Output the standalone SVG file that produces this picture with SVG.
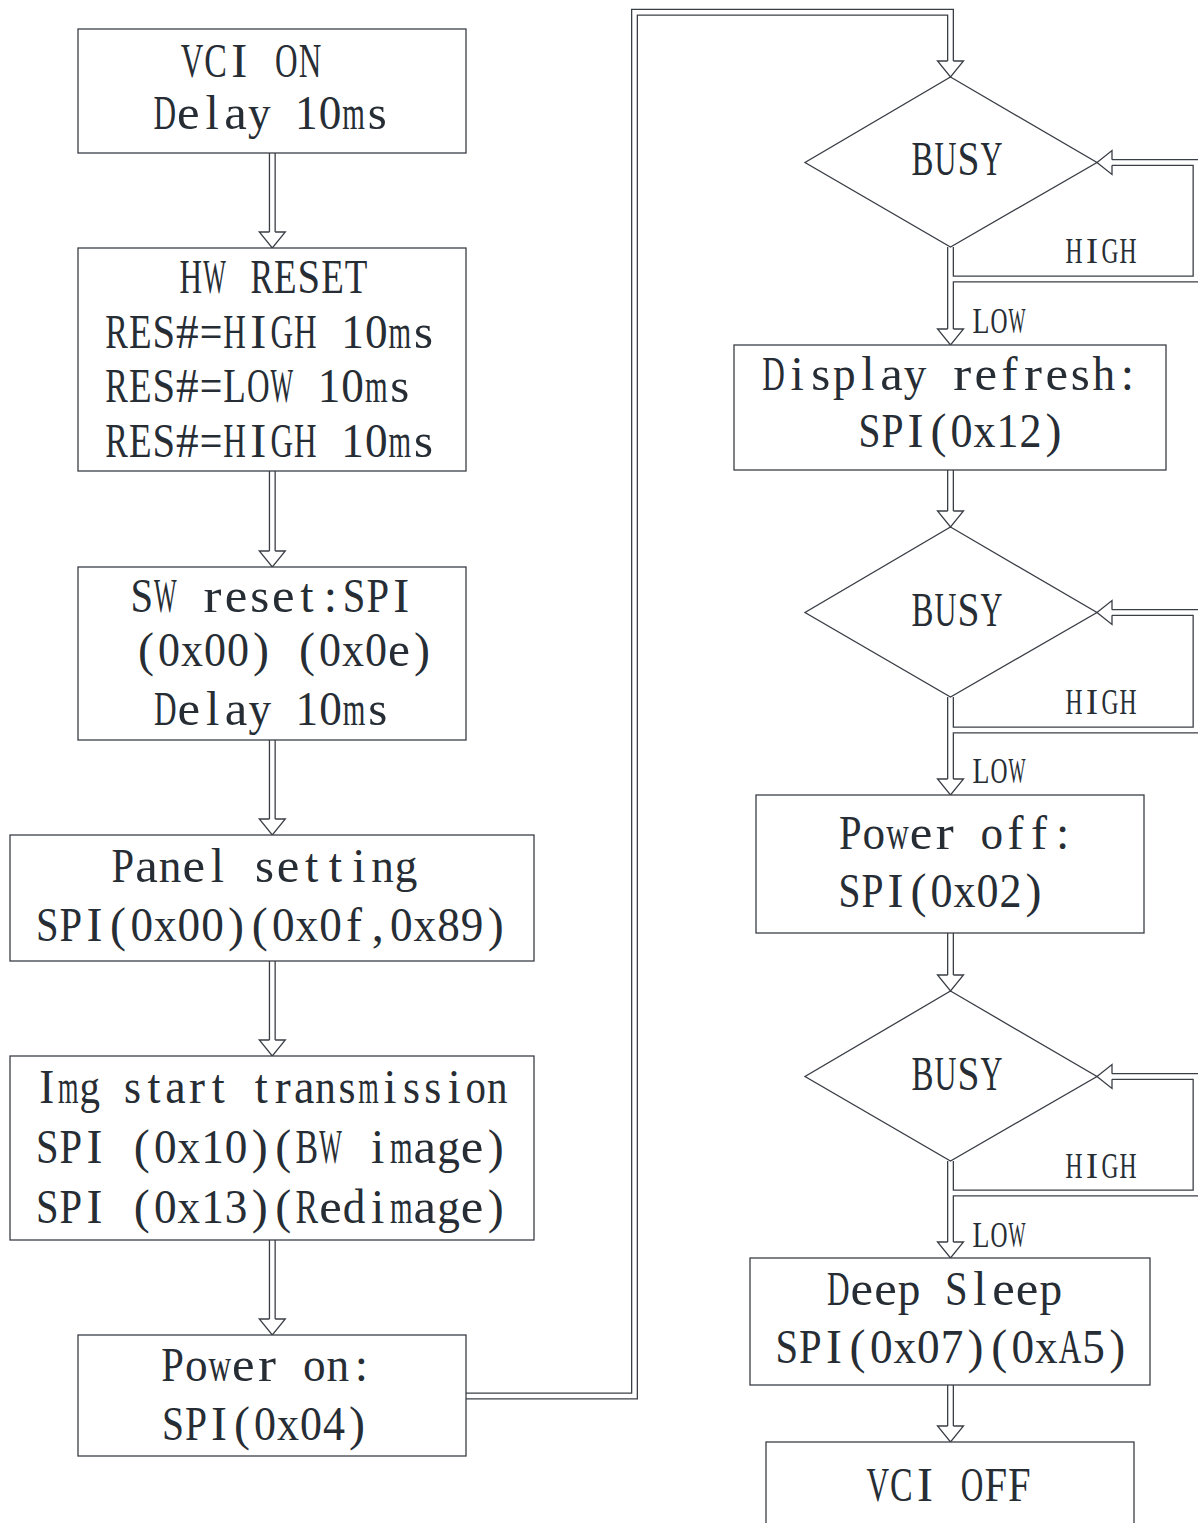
<svg xmlns="http://www.w3.org/2000/svg" width="1198" height="1523" viewBox="0 0 1198 1523">
  <style>
    .box { fill: #ffffff; stroke: #3a3f46; stroke-width: 1.3; }
    .dia { fill: none; stroke: #3a3f46; stroke-width: 1.3; }
    /* text is set at half height and stretched 2x vertically; each glyph is
       then fitted to its fixed-pitch cell with textLength */
    .t { font-family: "Liberation Serif", "DejaVu Serif", serif; font-size: 24px; fill: #272d34; }
    .s { font-size: 18px; }
    .pipe-o { fill: none; stroke: #3a3f46; stroke-width: 7; }
    .pipe-i { fill: none; stroke: #ffffff; stroke-width: 4.4; }
    .head-f { fill: #ffffff; stroke: none; }
    .head-s { fill: none; stroke: #3a3f46; stroke-width: 1.3; stroke-linejoin: miter; }
  </style>
  <rect width="1198" height="1523" fill="#ffffff"/>

  <!-- hollow double-line connectors: dark wide stroke under a white narrow one -->
  <g id="connectors">
    <g id="pipes-outer" class="pipe-o">
      <path d="M272.3,153 V232"/>
      <path d="M272.3,471 V551"/>
      <path d="M272.3,740 V819"/>
      <path d="M272.3,961 V1040"/>
      <path d="M272.3,1240 V1319"/>
      <path d="M466,1396 H634.5 V12.3 H950.5 V61"/>
      <path d="M950.5,247 V329"/>
      <path d="M950.5,279 H1196 V162.5 H1112"/>
      <path d="M950.5,470 V511"/>
      <path d="M950.5,697 V779"/>
      <path d="M950.5,730 H1196 V612.5 H1112"/>
      <path d="M950.5,933 V975"/>
      <path d="M950.5,1161 V1242"/>
      <path d="M950.5,1193 H1196 V1076.5 H1112"/>
      <path d="M950.5,1385 V1426"/>
    </g>
    <g id="pipes-inner" class="pipe-i">
      <path d="M272.3,153 V232"/>
      <path d="M272.3,471 V551"/>
      <path d="M272.3,740 V819"/>
      <path d="M272.3,961 V1040"/>
      <path d="M272.3,1240 V1319"/>
      <path d="M466,1396 H634.5 V12.3 H950.5 V61"/>
      <path d="M950.5,247 V329"/>
      <path d="M950.5,279 H1196 V162.5 H1112"/>
      <path d="M950.5,470 V511"/>
      <path d="M950.5,697 V779"/>
      <path d="M950.5,730 H1196 V612.5 H1112"/>
      <path d="M950.5,933 V975"/>
      <path d="M950.5,1161 V1242"/>
      <path d="M950.5,1193 H1196 V1076.5 H1112"/>
      <path d="M950.5,1385 V1426"/>
    </g>
    <defs>
      <!-- hollow heads, open where the pipe enters -->
      <g id="head-down">
        <path class="head-f" d="M-13,0 L0,16 L13,0 Z"/>
        <path class="head-s" d="M-2.85,0 H-13 L0,16 L13,0 H2.85"/>
      </g>
      <g id="head-left">
        <path class="head-f" d="M0,-12 L-15,0 L0,12 Z"/>
        <path class="head-s" d="M0,-2.85 V-12 L-15,0 L0,12 V2.85"/>
      </g>
    </defs>
    <use href="#head-down" x="272.3" y="232"/>
    <use href="#head-down" x="272.3" y="551"/>
    <use href="#head-down" x="272.3" y="819"/>
    <use href="#head-down" x="272.3" y="1040"/>
    <use href="#head-down" x="272.3" y="1319"/>
    <use href="#head-down" x="950.5" y="61"/>
    <use href="#head-down" x="950.5" y="329"/>
    <use href="#head-down" x="950.5" y="511"/>
    <use href="#head-down" x="950.5" y="779"/>
    <use href="#head-down" x="950.5" y="975"/>
    <use href="#head-down" x="950.5" y="1242"/>
    <use href="#head-down" x="950.5" y="1426"/>
    <use href="#head-left" x="1112" y="162.5"/>
    <use href="#head-left" x="1112" y="612.5"/>
    <use href="#head-left" x="1112" y="1076.5"/>

    <!-- branch labels, one fixed-pitch cell (18px) per glyph -->
    <g class="t s">
      <text y="131.5" transform="scale(1,2)"><tspan x="1065.5" textLength="17" lengthAdjust="spacingAndGlyphs">H</tspan><tspan x="1086" textLength="12" lengthAdjust="spacingAndGlyphs">I</tspan><tspan x="1101.5" textLength="17" lengthAdjust="spacingAndGlyphs">G</tspan><tspan x="1119.5" textLength="17" lengthAdjust="spacingAndGlyphs">H</tspan></text>
      <text y="357" transform="scale(1,2)"><tspan x="1065.5" textLength="17" lengthAdjust="spacingAndGlyphs">H</tspan><tspan x="1086" textLength="12" lengthAdjust="spacingAndGlyphs">I</tspan><tspan x="1101.5" textLength="17" lengthAdjust="spacingAndGlyphs">G</tspan><tspan x="1119.5" textLength="17" lengthAdjust="spacingAndGlyphs">H</tspan></text>
      <text y="589" transform="scale(1,2)"><tspan x="1065.5" textLength="17" lengthAdjust="spacingAndGlyphs">H</tspan><tspan x="1086" textLength="12" lengthAdjust="spacingAndGlyphs">I</tspan><tspan x="1101.5" textLength="17" lengthAdjust="spacingAndGlyphs">G</tspan><tspan x="1119.5" textLength="17" lengthAdjust="spacingAndGlyphs">H</tspan></text>
      <text y="166.5" transform="scale(1,2)"><tspan x="972.5" textLength="17" lengthAdjust="spacingAndGlyphs">L</tspan><tspan x="990.5" textLength="17" lengthAdjust="spacingAndGlyphs">O</tspan><tspan x="1008.5" textLength="17" lengthAdjust="spacingAndGlyphs">W</tspan></text>
      <text y="391.5" transform="scale(1,2)"><tspan x="972.5" textLength="17" lengthAdjust="spacingAndGlyphs">L</tspan><tspan x="990.5" textLength="17" lengthAdjust="spacingAndGlyphs">O</tspan><tspan x="1008.5" textLength="17" lengthAdjust="spacingAndGlyphs">W</tspan></text>
      <text y="623.5" transform="scale(1,2)"><tspan x="972.5" textLength="17" lengthAdjust="spacingAndGlyphs">L</tspan><tspan x="990.5" textLength="17" lengthAdjust="spacingAndGlyphs">O</tspan><tspan x="1008.5" textLength="17" lengthAdjust="spacingAndGlyphs">W</tspan></text>
    </g>
  </g>

  <!-- left column: every glyph sits in a fixed-pitch cell (about 23.6px wide) -->
  <g id="vci-on">
    <rect class="box" x="78" y="29" width="388" height="124"/>
    <text class="t" y="38.5" transform="scale(1,2)"><tspan x="180.7" textLength="22.6" lengthAdjust="spacingAndGlyphs">V</tspan><tspan x="204.3" textLength="22.6" lengthAdjust="spacingAndGlyphs">C</tspan><tspan x="231.2" textLength="16" lengthAdjust="spacingAndGlyphs">I</tspan> <tspan x="275.1" textLength="22.6" lengthAdjust="spacingAndGlyphs">O</tspan><tspan x="298.7" textLength="22.6" lengthAdjust="spacingAndGlyphs">N</tspan></text>
    <text class="t" y="64.5" transform="scale(1,2)"><tspan x="153.5" textLength="22.6" lengthAdjust="spacingAndGlyphs">D</tspan><tspan x="177.1" textLength="22.6" lengthAdjust="spacingAndGlyphs">e</tspan><tspan x="205.4" textLength="13.3" lengthAdjust="spacingAndGlyphs">l</tspan><tspan x="224.3" textLength="22.6" lengthAdjust="spacingAndGlyphs">a</tspan><tspan x="247.9" textLength="22.6" lengthAdjust="spacingAndGlyphs">y</tspan> <tspan x="295.1" textLength="22.6" lengthAdjust="spacingAndGlyphs">1</tspan><tspan x="318.7" textLength="22.6" lengthAdjust="spacingAndGlyphs">0</tspan><tspan x="342.3" textLength="22.6" lengthAdjust="spacingAndGlyphs">m</tspan><tspan x="367.7" textLength="19" lengthAdjust="spacingAndGlyphs">s</tspan></text>
  </g>
  <g id="hw-reset">
    <rect class="box" x="78" y="248" width="388" height="223"/>
    <text class="t" y="146.5" transform="scale(1,2)"><tspan x="179.6" textLength="22.6" lengthAdjust="spacingAndGlyphs">H</tspan><tspan x="203.2" textLength="22.6" lengthAdjust="spacingAndGlyphs">W</tspan> <tspan x="250.4" textLength="22.6" lengthAdjust="spacingAndGlyphs">R</tspan><tspan x="274" textLength="22.6" lengthAdjust="spacingAndGlyphs">E</tspan><tspan x="297.6" textLength="22.6" lengthAdjust="spacingAndGlyphs">S</tspan><tspan x="321.2" textLength="22.6" lengthAdjust="spacingAndGlyphs">E</tspan><tspan x="344.8" textLength="22.6" lengthAdjust="spacingAndGlyphs">T</tspan></text>
    <text class="t" y="174" transform="scale(1,2)"><tspan x="105.3" textLength="22.6" lengthAdjust="spacingAndGlyphs">R</tspan><tspan x="128.9" textLength="22.6" lengthAdjust="spacingAndGlyphs">E</tspan><tspan x="152.5" textLength="22.6" lengthAdjust="spacingAndGlyphs">S</tspan><tspan x="176.1" textLength="22.6" lengthAdjust="spacingAndGlyphs">#</tspan><tspan x="199.7" textLength="22.6" lengthAdjust="spacingAndGlyphs">=</tspan><tspan x="223.3" textLength="22.6" lengthAdjust="spacingAndGlyphs">H</tspan><tspan x="250.2" textLength="16" lengthAdjust="spacingAndGlyphs">I</tspan><tspan x="270.5" textLength="22.6" lengthAdjust="spacingAndGlyphs">G</tspan><tspan x="294.1" textLength="22.6" lengthAdjust="spacingAndGlyphs">H</tspan> <tspan x="341.3" textLength="22.6" lengthAdjust="spacingAndGlyphs">1</tspan><tspan x="364.9" textLength="22.6" lengthAdjust="spacingAndGlyphs">0</tspan><tspan x="388.5" textLength="22.6" lengthAdjust="spacingAndGlyphs">m</tspan><tspan x="413.9" textLength="19" lengthAdjust="spacingAndGlyphs">s</tspan></text>
    <text class="t" y="201" transform="scale(1,2)"><tspan x="105.3" textLength="22.6" lengthAdjust="spacingAndGlyphs">R</tspan><tspan x="128.9" textLength="22.6" lengthAdjust="spacingAndGlyphs">E</tspan><tspan x="152.5" textLength="22.6" lengthAdjust="spacingAndGlyphs">S</tspan><tspan x="176.1" textLength="22.6" lengthAdjust="spacingAndGlyphs">#</tspan><tspan x="199.7" textLength="22.6" lengthAdjust="spacingAndGlyphs">=</tspan><tspan x="223.3" textLength="22.6" lengthAdjust="spacingAndGlyphs">L</tspan><tspan x="246.9" textLength="22.6" lengthAdjust="spacingAndGlyphs">O</tspan><tspan x="270.5" textLength="22.6" lengthAdjust="spacingAndGlyphs">W</tspan> <tspan x="317.7" textLength="22.6" lengthAdjust="spacingAndGlyphs">1</tspan><tspan x="341.3" textLength="22.6" lengthAdjust="spacingAndGlyphs">0</tspan><tspan x="364.9" textLength="22.6" lengthAdjust="spacingAndGlyphs">m</tspan><tspan x="390.3" textLength="19" lengthAdjust="spacingAndGlyphs">s</tspan></text>
    <text class="t" y="228.5" transform="scale(1,2)"><tspan x="105.3" textLength="22.6" lengthAdjust="spacingAndGlyphs">R</tspan><tspan x="128.9" textLength="22.6" lengthAdjust="spacingAndGlyphs">E</tspan><tspan x="152.5" textLength="22.6" lengthAdjust="spacingAndGlyphs">S</tspan><tspan x="176.1" textLength="22.6" lengthAdjust="spacingAndGlyphs">#</tspan><tspan x="199.7" textLength="22.6" lengthAdjust="spacingAndGlyphs">=</tspan><tspan x="223.3" textLength="22.6" lengthAdjust="spacingAndGlyphs">H</tspan><tspan x="250.2" textLength="16" lengthAdjust="spacingAndGlyphs">I</tspan><tspan x="270.5" textLength="22.6" lengthAdjust="spacingAndGlyphs">G</tspan><tspan x="294.1" textLength="22.6" lengthAdjust="spacingAndGlyphs">H</tspan> <tspan x="341.3" textLength="22.6" lengthAdjust="spacingAndGlyphs">1</tspan><tspan x="364.9" textLength="22.6" lengthAdjust="spacingAndGlyphs">0</tspan><tspan x="388.5" textLength="22.6" lengthAdjust="spacingAndGlyphs">m</tspan><tspan x="413.9" textLength="19" lengthAdjust="spacingAndGlyphs">s</tspan></text>
  </g>
  <g id="sw-reset">
    <rect class="box" x="78" y="567" width="388" height="173"/>
    <text class="t" y="306" transform="scale(1,2)"><tspan x="130.4" textLength="22.6" lengthAdjust="spacingAndGlyphs">S</tspan><tspan x="154" textLength="22.6" lengthAdjust="spacingAndGlyphs">W</tspan> <tspan x="203.5" textLength="18" lengthAdjust="spacingAndGlyphs">r</tspan><tspan x="224.8" textLength="22.6" lengthAdjust="spacingAndGlyphs">e</tspan><tspan x="250.2" textLength="19" lengthAdjust="spacingAndGlyphs">s</tspan><tspan x="272" textLength="22.6" lengthAdjust="spacingAndGlyphs">e</tspan><tspan x="300.25" textLength="13.3" lengthAdjust="spacingAndGlyphs">t</tspan><tspan x="323.85" textLength="13.3" lengthAdjust="spacingAndGlyphs">:</tspan><tspan x="342.8" textLength="22.6" lengthAdjust="spacingAndGlyphs">S</tspan><tspan x="366.4" textLength="22.6" lengthAdjust="spacingAndGlyphs">P</tspan><tspan x="393.3" textLength="16" lengthAdjust="spacingAndGlyphs">I</tspan></text>
    <text class="t" y="333" transform="scale(1,2)"><tspan x="138" textLength="16" lengthAdjust="spacingAndGlyphs">(</tspan><tspan x="158" textLength="22" lengthAdjust="spacingAndGlyphs">0</tspan><tspan x="181" textLength="22" lengthAdjust="spacingAndGlyphs">x</tspan><tspan x="204" textLength="22" lengthAdjust="spacingAndGlyphs">0</tspan><tspan x="227" textLength="22" lengthAdjust="spacingAndGlyphs">0</tspan><tspan x="253" textLength="16" lengthAdjust="spacingAndGlyphs">)</tspan> <tspan x="299" textLength="16" lengthAdjust="spacingAndGlyphs">(</tspan><tspan x="319" textLength="22" lengthAdjust="spacingAndGlyphs">0</tspan><tspan x="342" textLength="22" lengthAdjust="spacingAndGlyphs">x</tspan><tspan x="365" textLength="22" lengthAdjust="spacingAndGlyphs">0</tspan><tspan x="388" textLength="22" lengthAdjust="spacingAndGlyphs">e</tspan><tspan x="414" textLength="16" lengthAdjust="spacingAndGlyphs">)</tspan></text>
    <text class="t" y="362.5" transform="scale(1,2)"><tspan x="154" textLength="22.6" lengthAdjust="spacingAndGlyphs">D</tspan><tspan x="177.6" textLength="22.6" lengthAdjust="spacingAndGlyphs">e</tspan><tspan x="205.9" textLength="13.3" lengthAdjust="spacingAndGlyphs">l</tspan><tspan x="224.8" textLength="22.6" lengthAdjust="spacingAndGlyphs">a</tspan><tspan x="248.4" textLength="22.6" lengthAdjust="spacingAndGlyphs">y</tspan> <tspan x="295.6" textLength="22.6" lengthAdjust="spacingAndGlyphs">1</tspan><tspan x="319.2" textLength="22.6" lengthAdjust="spacingAndGlyphs">0</tspan><tspan x="342.8" textLength="22.6" lengthAdjust="spacingAndGlyphs">m</tspan><tspan x="368.2" textLength="19" lengthAdjust="spacingAndGlyphs">s</tspan></text>
  </g>
  <g id="panel-setting">
    <rect class="box" x="10" y="835" width="524" height="126"/>
    <text class="t" y="441" transform="scale(1,2)"><tspan x="111.6" textLength="22.6" lengthAdjust="spacingAndGlyphs">P</tspan><tspan x="135.2" textLength="22.6" lengthAdjust="spacingAndGlyphs">a</tspan><tspan x="158.8" textLength="22.6" lengthAdjust="spacingAndGlyphs">n</tspan><tspan x="182.4" textLength="22.6" lengthAdjust="spacingAndGlyphs">e</tspan><tspan x="210.65" textLength="13.3" lengthAdjust="spacingAndGlyphs">l</tspan> <tspan x="255" textLength="19" lengthAdjust="spacingAndGlyphs">s</tspan><tspan x="276.8" textLength="22.6" lengthAdjust="spacingAndGlyphs">e</tspan><tspan x="305.05" textLength="13.3" lengthAdjust="spacingAndGlyphs">t</tspan><tspan x="328.65" textLength="13.3" lengthAdjust="spacingAndGlyphs">t</tspan><tspan x="352.25" textLength="13.3" lengthAdjust="spacingAndGlyphs">i</tspan><tspan x="371.2" textLength="22.6" lengthAdjust="spacingAndGlyphs">n</tspan><tspan x="394.8" textLength="22.6" lengthAdjust="spacingAndGlyphs">g</tspan></text>
    <text class="t" y="470.5" transform="scale(1,2)"><tspan x="36" textLength="22.6" lengthAdjust="spacingAndGlyphs">S</tspan><tspan x="59.6" textLength="22.6" lengthAdjust="spacingAndGlyphs">P</tspan><tspan x="86.5" textLength="16" lengthAdjust="spacingAndGlyphs">I</tspan><tspan x="110.1" textLength="16" lengthAdjust="spacingAndGlyphs">(</tspan><tspan x="130.4" textLength="22.6" lengthAdjust="spacingAndGlyphs">0</tspan><tspan x="154" textLength="22.6" lengthAdjust="spacingAndGlyphs">x</tspan><tspan x="177.6" textLength="22.6" lengthAdjust="spacingAndGlyphs">0</tspan><tspan x="201.2" textLength="22.6" lengthAdjust="spacingAndGlyphs">0</tspan><tspan x="228.1" textLength="16" lengthAdjust="spacingAndGlyphs">)</tspan><tspan x="251.7" textLength="16" lengthAdjust="spacingAndGlyphs">(</tspan><tspan x="272" textLength="22.6" lengthAdjust="spacingAndGlyphs">0</tspan><tspan x="295.6" textLength="22.6" lengthAdjust="spacingAndGlyphs">x</tspan><tspan x="319.2" textLength="22.6" lengthAdjust="spacingAndGlyphs">0</tspan><tspan x="346.1" textLength="16" lengthAdjust="spacingAndGlyphs">f</tspan><tspan x="371.7" textLength="12" lengthAdjust="spacingAndGlyphs">,</tspan><tspan x="390" textLength="22.6" lengthAdjust="spacingAndGlyphs">0</tspan><tspan x="413.6" textLength="22.6" lengthAdjust="spacingAndGlyphs">x</tspan><tspan x="437.2" textLength="22.6" lengthAdjust="spacingAndGlyphs">8</tspan><tspan x="460.8" textLength="22.6" lengthAdjust="spacingAndGlyphs">9</tspan><tspan x="487.7" textLength="16" lengthAdjust="spacingAndGlyphs">)</tspan></text>
  </g>
  <g id="img-transmission">
    <rect class="box" x="10" y="1056" width="524" height="184"/>
    <text class="t" y="551.5" transform="scale(1,2)"><tspan x="39.2" textLength="15" lengthAdjust="spacingAndGlyphs">I</tspan><tspan x="57.95" textLength="20.45" lengthAdjust="spacingAndGlyphs">m</tspan><tspan x="79.4" textLength="20.45" lengthAdjust="spacingAndGlyphs">g</tspan> <tspan x="124" textLength="17" lengthAdjust="spacingAndGlyphs">s</tspan><tspan x="147.5" textLength="13" lengthAdjust="spacingAndGlyphs">t</tspan><tspan x="165.2" textLength="20.45" lengthAdjust="spacingAndGlyphs">a</tspan><tspan x="188.9" textLength="16" lengthAdjust="spacingAndGlyphs">r</tspan><tspan x="211.8" textLength="13" lengthAdjust="spacingAndGlyphs">t</tspan> <tspan x="254.7" textLength="13" lengthAdjust="spacingAndGlyphs">t</tspan><tspan x="274.7" textLength="16" lengthAdjust="spacingAndGlyphs">r</tspan><tspan x="293.9" textLength="20.45" lengthAdjust="spacingAndGlyphs">a</tspan><tspan x="315.35" textLength="20.45" lengthAdjust="spacingAndGlyphs">n</tspan><tspan x="338.5" textLength="17" lengthAdjust="spacingAndGlyphs">s</tspan><tspan x="358.25" textLength="20.45" lengthAdjust="spacingAndGlyphs">m</tspan><tspan x="383.4" textLength="13" lengthAdjust="spacingAndGlyphs">i</tspan><tspan x="402.9" textLength="17" lengthAdjust="spacingAndGlyphs">s</tspan><tspan x="424.3" textLength="17" lengthAdjust="spacingAndGlyphs">s</tspan><tspan x="447.8" textLength="13" lengthAdjust="spacingAndGlyphs">i</tspan><tspan x="465.5" textLength="20.45" lengthAdjust="spacingAndGlyphs">o</tspan><tspan x="486.95" textLength="20.45" lengthAdjust="spacingAndGlyphs">n</tspan></text>
    <text class="t" y="581.5" transform="scale(1,2)"><tspan x="36" textLength="22.6" lengthAdjust="spacingAndGlyphs">S</tspan><tspan x="59.6" textLength="22.6" lengthAdjust="spacingAndGlyphs">P</tspan><tspan x="86.5" textLength="16" lengthAdjust="spacingAndGlyphs">I</tspan> <tspan x="133.7" textLength="16" lengthAdjust="spacingAndGlyphs">(</tspan><tspan x="154" textLength="22.6" lengthAdjust="spacingAndGlyphs">0</tspan><tspan x="177.6" textLength="22.6" lengthAdjust="spacingAndGlyphs">x</tspan><tspan x="201.2" textLength="22.6" lengthAdjust="spacingAndGlyphs">1</tspan><tspan x="224.8" textLength="22.6" lengthAdjust="spacingAndGlyphs">0</tspan><tspan x="251.7" textLength="16" lengthAdjust="spacingAndGlyphs">)</tspan><tspan x="275.3" textLength="16" lengthAdjust="spacingAndGlyphs">(</tspan><tspan x="295.6" textLength="22.6" lengthAdjust="spacingAndGlyphs">B</tspan><tspan x="319.2" textLength="22.6" lengthAdjust="spacingAndGlyphs">W</tspan> <tspan x="371.05" textLength="13.3" lengthAdjust="spacingAndGlyphs">i</tspan><tspan x="390" textLength="22.6" lengthAdjust="spacingAndGlyphs">m</tspan><tspan x="413.6" textLength="22.6" lengthAdjust="spacingAndGlyphs">a</tspan><tspan x="437.2" textLength="22.6" lengthAdjust="spacingAndGlyphs">g</tspan><tspan x="460.8" textLength="22.6" lengthAdjust="spacingAndGlyphs">e</tspan><tspan x="487.7" textLength="16" lengthAdjust="spacingAndGlyphs">)</tspan></text>
    <text class="t" y="611.5" transform="scale(1,2)"><tspan x="36" textLength="22.6" lengthAdjust="spacingAndGlyphs">S</tspan><tspan x="59.6" textLength="22.6" lengthAdjust="spacingAndGlyphs">P</tspan><tspan x="86.5" textLength="16" lengthAdjust="spacingAndGlyphs">I</tspan> <tspan x="133.7" textLength="16" lengthAdjust="spacingAndGlyphs">(</tspan><tspan x="154" textLength="22.6" lengthAdjust="spacingAndGlyphs">0</tspan><tspan x="177.6" textLength="22.6" lengthAdjust="spacingAndGlyphs">x</tspan><tspan x="201.2" textLength="22.6" lengthAdjust="spacingAndGlyphs">1</tspan><tspan x="224.8" textLength="22.6" lengthAdjust="spacingAndGlyphs">3</tspan><tspan x="251.7" textLength="16" lengthAdjust="spacingAndGlyphs">)</tspan><tspan x="275.3" textLength="16" lengthAdjust="spacingAndGlyphs">(</tspan><tspan x="295.6" textLength="22.6" lengthAdjust="spacingAndGlyphs">R</tspan><tspan x="319.2" textLength="22.6" lengthAdjust="spacingAndGlyphs">e</tspan><tspan x="342.8" textLength="22.6" lengthAdjust="spacingAndGlyphs">d</tspan><tspan x="371.05" textLength="13.3" lengthAdjust="spacingAndGlyphs">i</tspan><tspan x="390" textLength="22.6" lengthAdjust="spacingAndGlyphs">m</tspan><tspan x="413.6" textLength="22.6" lengthAdjust="spacingAndGlyphs">a</tspan><tspan x="437.2" textLength="22.6" lengthAdjust="spacingAndGlyphs">g</tspan><tspan x="460.8" textLength="22.6" lengthAdjust="spacingAndGlyphs">e</tspan><tspan x="487.7" textLength="16" lengthAdjust="spacingAndGlyphs">)</tspan></text>
  </g>
  <g id="power-on">
    <rect class="box" x="78" y="1335" width="388" height="121"/>
    <text class="t" y="690.5" transform="scale(1,2)"><tspan x="161.3" textLength="22.6" lengthAdjust="spacingAndGlyphs">P</tspan><tspan x="184.9" textLength="22.6" lengthAdjust="spacingAndGlyphs">o</tspan><tspan x="208.5" textLength="22.6" lengthAdjust="spacingAndGlyphs">w</tspan><tspan x="232.1" textLength="22.6" lengthAdjust="spacingAndGlyphs">e</tspan><tspan x="258" textLength="18" lengthAdjust="spacingAndGlyphs">r</tspan> <tspan x="302.9" textLength="22.6" lengthAdjust="spacingAndGlyphs">o</tspan><tspan x="326.5" textLength="22.6" lengthAdjust="spacingAndGlyphs">n</tspan><tspan x="354.75" textLength="13.3" lengthAdjust="spacingAndGlyphs">:</tspan></text>
    <text class="t" y="720" transform="scale(1,2)"><tspan x="162" textLength="22" lengthAdjust="spacingAndGlyphs">S</tspan><tspan x="185" textLength="22" lengthAdjust="spacingAndGlyphs">P</tspan><tspan x="211" textLength="16" lengthAdjust="spacingAndGlyphs">I</tspan><tspan x="234" textLength="16" lengthAdjust="spacingAndGlyphs">(</tspan><tspan x="254" textLength="22" lengthAdjust="spacingAndGlyphs">0</tspan><tspan x="277" textLength="22" lengthAdjust="spacingAndGlyphs">x</tspan><tspan x="300" textLength="22" lengthAdjust="spacingAndGlyphs">0</tspan><tspan x="323" textLength="22" lengthAdjust="spacingAndGlyphs">4</tspan><tspan x="349" textLength="16" lengthAdjust="spacingAndGlyphs">)</tspan></text>
  </g>

  <!-- right column -->
  <g id="busy-1">
    <path class="dia" d="M950.5,77 L1097,162.5 L950.5,247 L805,162.5 Z"/>
    <text class="t" y="87.5" transform="scale(1,2)"><tspan x="911.5" textLength="22" lengthAdjust="spacingAndGlyphs">B</tspan><tspan x="934.5" textLength="22" lengthAdjust="spacingAndGlyphs">U</tspan><tspan x="957.5" textLength="22" lengthAdjust="spacingAndGlyphs">S</tspan><tspan x="980.5" textLength="22" lengthAdjust="spacingAndGlyphs">Y</tspan></text>
  </g>
  <g id="display-refresh">
    <rect class="box" x="734" y="345" width="432" height="125"/>
    <text class="t" y="195" transform="scale(1,2)"><tspan x="762.2" textLength="22.6" lengthAdjust="spacingAndGlyphs">D</tspan><tspan x="790.45" textLength="13.3" lengthAdjust="spacingAndGlyphs">i</tspan><tspan x="811.2" textLength="19" lengthAdjust="spacingAndGlyphs">s</tspan><tspan x="833" textLength="22.6" lengthAdjust="spacingAndGlyphs">p</tspan><tspan x="861.25" textLength="13.3" lengthAdjust="spacingAndGlyphs">l</tspan><tspan x="880.2" textLength="22.6" lengthAdjust="spacingAndGlyphs">a</tspan><tspan x="903.8" textLength="22.6" lengthAdjust="spacingAndGlyphs">y</tspan> <tspan x="953.3" textLength="18" lengthAdjust="spacingAndGlyphs">r</tspan><tspan x="974.6" textLength="22.6" lengthAdjust="spacingAndGlyphs">e</tspan><tspan x="1001.5" textLength="16" lengthAdjust="spacingAndGlyphs">f</tspan><tspan x="1024.1" textLength="18" lengthAdjust="spacingAndGlyphs">r</tspan><tspan x="1045.4" textLength="22.6" lengthAdjust="spacingAndGlyphs">e</tspan><tspan x="1070.8" textLength="19" lengthAdjust="spacingAndGlyphs">s</tspan><tspan x="1092.6" textLength="22.6" lengthAdjust="spacingAndGlyphs">h</tspan><tspan x="1120.85" textLength="13.3" lengthAdjust="spacingAndGlyphs">:</tspan></text>
    <text class="t" y="223.5" transform="scale(1,2)"><tspan x="858.5" textLength="22" lengthAdjust="spacingAndGlyphs">S</tspan><tspan x="881.5" textLength="22" lengthAdjust="spacingAndGlyphs">P</tspan><tspan x="907.5" textLength="16" lengthAdjust="spacingAndGlyphs">I</tspan><tspan x="930.5" textLength="16" lengthAdjust="spacingAndGlyphs">(</tspan><tspan x="950.5" textLength="22" lengthAdjust="spacingAndGlyphs">0</tspan><tspan x="973.5" textLength="22" lengthAdjust="spacingAndGlyphs">x</tspan><tspan x="996.5" textLength="22" lengthAdjust="spacingAndGlyphs">1</tspan><tspan x="1019.5" textLength="22" lengthAdjust="spacingAndGlyphs">2</tspan><tspan x="1045.5" textLength="16" lengthAdjust="spacingAndGlyphs">)</tspan></text>
  </g>
  <g id="busy-2">
    <path class="dia" d="M950.5,527 L1097,612.5 L950.5,697 L805,612.5 Z"/>
    <text class="t" y="313" transform="scale(1,2)"><tspan x="911.5" textLength="22" lengthAdjust="spacingAndGlyphs">B</tspan><tspan x="934.5" textLength="22" lengthAdjust="spacingAndGlyphs">U</tspan><tspan x="957.5" textLength="22" lengthAdjust="spacingAndGlyphs">S</tspan><tspan x="980.5" textLength="22" lengthAdjust="spacingAndGlyphs">Y</tspan></text>
  </g>
  <g id="power-off">
    <rect class="box" x="756" y="795" width="388" height="138"/>
    <text class="t" y="424.5" transform="scale(1,2)"><tspan x="839" textLength="22.6" lengthAdjust="spacingAndGlyphs">P</tspan><tspan x="862.6" textLength="22.6" lengthAdjust="spacingAndGlyphs">o</tspan><tspan x="886.2" textLength="22.6" lengthAdjust="spacingAndGlyphs">w</tspan><tspan x="909.8" textLength="22.6" lengthAdjust="spacingAndGlyphs">e</tspan><tspan x="935.7" textLength="18" lengthAdjust="spacingAndGlyphs">r</tspan> <tspan x="980.6" textLength="22.6" lengthAdjust="spacingAndGlyphs">o</tspan><tspan x="1007.5" textLength="16" lengthAdjust="spacingAndGlyphs">f</tspan><tspan x="1031.1" textLength="16" lengthAdjust="spacingAndGlyphs">f</tspan><tspan x="1056.05" textLength="13.3" lengthAdjust="spacingAndGlyphs">:</tspan></text>
    <text class="t" y="453.5" transform="scale(1,2)"><tspan x="838.5" textLength="22" lengthAdjust="spacingAndGlyphs">S</tspan><tspan x="861.5" textLength="22" lengthAdjust="spacingAndGlyphs">P</tspan><tspan x="887.5" textLength="16" lengthAdjust="spacingAndGlyphs">I</tspan><tspan x="910.5" textLength="16" lengthAdjust="spacingAndGlyphs">(</tspan><tspan x="930.5" textLength="22" lengthAdjust="spacingAndGlyphs">0</tspan><tspan x="953.5" textLength="22" lengthAdjust="spacingAndGlyphs">x</tspan><tspan x="976.5" textLength="22" lengthAdjust="spacingAndGlyphs">0</tspan><tspan x="999.5" textLength="22" lengthAdjust="spacingAndGlyphs">2</tspan><tspan x="1025.5" textLength="16" lengthAdjust="spacingAndGlyphs">)</tspan></text>
  </g>
  <g id="busy-3">
    <path class="dia" d="M950.5,991 L1097,1076.5 L950.5,1161 L805,1076.5 Z"/>
    <text class="t" y="545" transform="scale(1,2)"><tspan x="911.5" textLength="22" lengthAdjust="spacingAndGlyphs">B</tspan><tspan x="934.5" textLength="22" lengthAdjust="spacingAndGlyphs">U</tspan><tspan x="957.5" textLength="22" lengthAdjust="spacingAndGlyphs">S</tspan><tspan x="980.5" textLength="22" lengthAdjust="spacingAndGlyphs">Y</tspan></text>
  </g>
  <g id="deep-sleep">
    <rect class="box" x="750" y="1258" width="400" height="127"/>
    <text class="t" y="652.5" transform="scale(1,2)"><tspan x="827" textLength="22.6" lengthAdjust="spacingAndGlyphs">D</tspan><tspan x="850.6" textLength="22.6" lengthAdjust="spacingAndGlyphs">e</tspan><tspan x="874.2" textLength="22.6" lengthAdjust="spacingAndGlyphs">e</tspan><tspan x="897.8" textLength="22.6" lengthAdjust="spacingAndGlyphs">p</tspan> <tspan x="945" textLength="22.6" lengthAdjust="spacingAndGlyphs">S</tspan><tspan x="973.25" textLength="13.3" lengthAdjust="spacingAndGlyphs">l</tspan><tspan x="992.2" textLength="22.6" lengthAdjust="spacingAndGlyphs">e</tspan><tspan x="1015.8" textLength="22.6" lengthAdjust="spacingAndGlyphs">e</tspan><tspan x="1039.4" textLength="22.6" lengthAdjust="spacingAndGlyphs">p</tspan></text>
    <text class="t" y="681.5" transform="scale(1,2)"><tspan x="775.5" textLength="22.6" lengthAdjust="spacingAndGlyphs">S</tspan><tspan x="799.1" textLength="22.6" lengthAdjust="spacingAndGlyphs">P</tspan><tspan x="826" textLength="16" lengthAdjust="spacingAndGlyphs">I</tspan><tspan x="849.6" textLength="16" lengthAdjust="spacingAndGlyphs">(</tspan><tspan x="869.9" textLength="22.6" lengthAdjust="spacingAndGlyphs">0</tspan><tspan x="893.5" textLength="22.6" lengthAdjust="spacingAndGlyphs">x</tspan><tspan x="917.1" textLength="22.6" lengthAdjust="spacingAndGlyphs">0</tspan><tspan x="940.7" textLength="22.6" lengthAdjust="spacingAndGlyphs">7</tspan><tspan x="967.6" textLength="16" lengthAdjust="spacingAndGlyphs">)</tspan><tspan x="991.2" textLength="16" lengthAdjust="spacingAndGlyphs">(</tspan><tspan x="1011.5" textLength="22.6" lengthAdjust="spacingAndGlyphs">0</tspan><tspan x="1035.1" textLength="22.6" lengthAdjust="spacingAndGlyphs">x</tspan><tspan x="1058.7" textLength="22.6" lengthAdjust="spacingAndGlyphs">A</tspan><tspan x="1082.3" textLength="22.6" lengthAdjust="spacingAndGlyphs">5</tspan><tspan x="1109.2" textLength="16" lengthAdjust="spacingAndGlyphs">)</tspan></text>
  </g>
  <g id="vci-off">
    <rect class="box" x="766" y="1442" width="368" height="100"/>
    <text class="t" y="750.5" transform="scale(1,2)"><tspan x="866.4" textLength="22.6" lengthAdjust="spacingAndGlyphs">V</tspan><tspan x="890" textLength="22.6" lengthAdjust="spacingAndGlyphs">C</tspan><tspan x="916.9" textLength="16" lengthAdjust="spacingAndGlyphs">I</tspan> <tspan x="960.8" textLength="22.6" lengthAdjust="spacingAndGlyphs">O</tspan><tspan x="984.4" textLength="22.6" lengthAdjust="spacingAndGlyphs">F</tspan><tspan x="1008" textLength="22.6" lengthAdjust="spacingAndGlyphs">F</tspan></text>
  </g>
</svg>
